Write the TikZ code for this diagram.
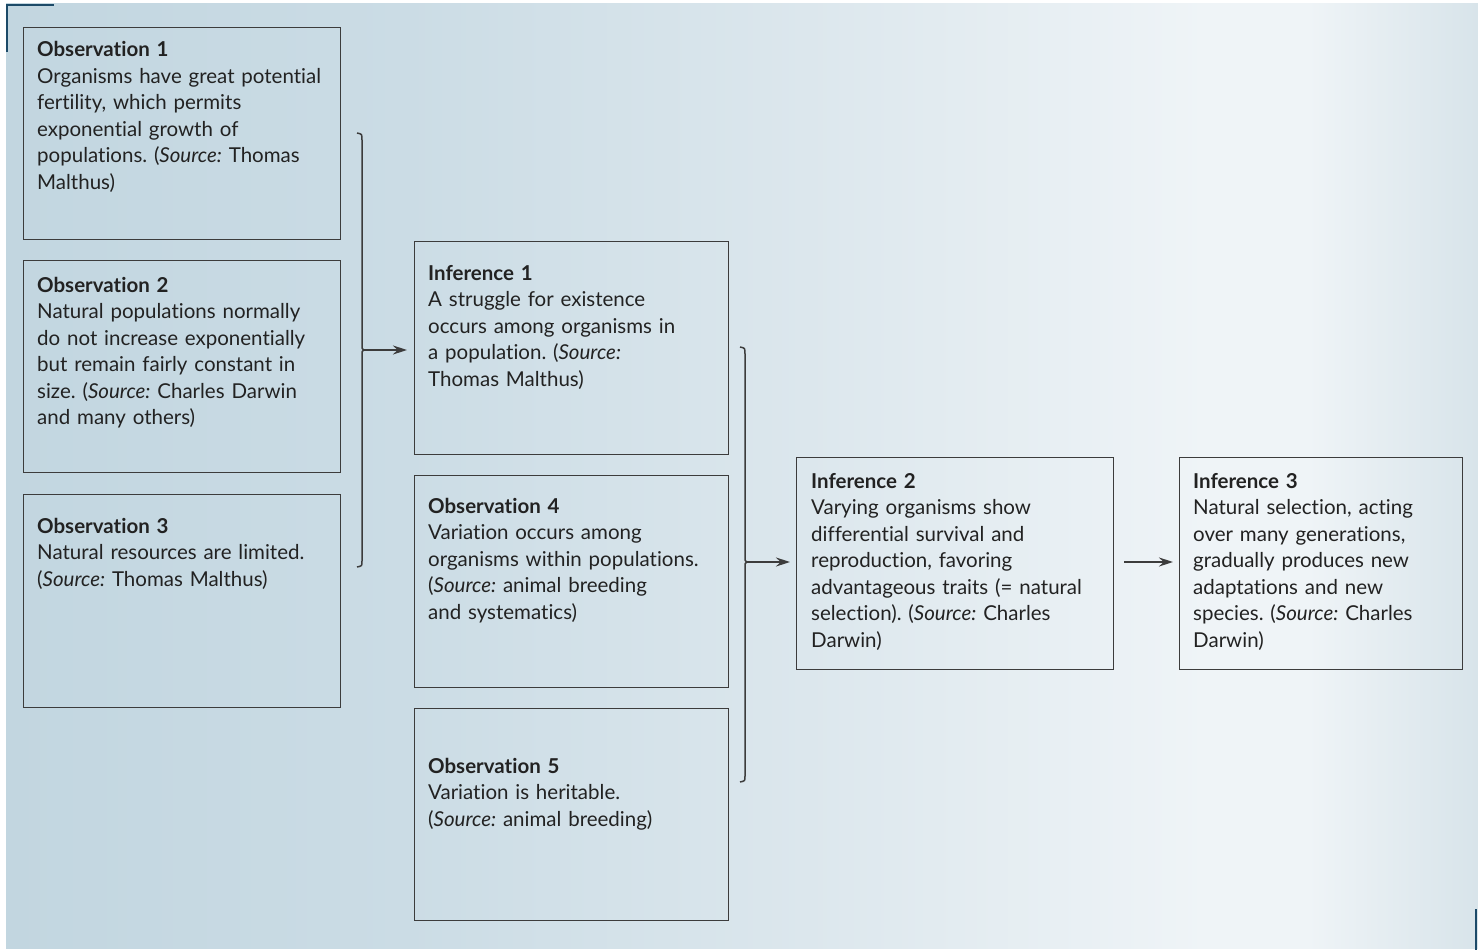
\documentclass[tikz,border=0pt]{standalone}
\usepackage{fontspec}
\setmainfont{Lato}[Ligatures={NoCommon}]
\usetikzlibrary{arrows.meta}
\definecolor{bgA}{HTML}{C2D6E0}
\definecolor{bgB}{HTML}{CBDCE5}
\definecolor{bgC}{HTML}{DCE7ED}
\definecolor{bgD}{HTML}{EFF4F7}
\definecolor{bgE}{HTML}{D8E4EA}
\definecolor{edgecol}{HTML}{3C3C3C}
\definecolor{ink}{HTML}{222222}
\definecolor{markcol}{HTML}{1C4A68}
\pgfdeclarehorizontalshading{bgshade}{100bp}{color(0bp)=(bgA); color(25bp)=(bgA); color(38.6bp)=(bgB); color(52.2bp)=(bgC); color(65.8bp)=(bgD); color(69.2bp)=(bgD); color(75bp)=(bgE); color(100bp)=(bgE)}
\tikzset{
  box/.style={draw=edgecol, line width=1.4pt, anchor=north west, inner sep=0pt},
  txt/.style={anchor=base west, inner sep=0pt, align=left, text width=330pt, text=ink,
    font=\fontsize{20.5pt}{26.5pt}\selectfont\frenchspacing},
  brk/.style={draw=edgecol, line width=1.5pt},
  arr/.style={draw=edgecol, line width=1.5pt, -{Stealth[length=14pt,width=9pt]}},
  cornermark/.style={draw=markcol, line width=2.5pt},
}
\begin{document}
\begin{tikzpicture}[x=1pt,y=-1pt]
\useasboundingbox (0,0) rectangle (1478,950);
\fill[white] (0,0) rectangle (1478,950);
\shade[shading=bgshade] (6,4) rectangle (1478,948);
% corner marks
\draw[cornermark] (7,52) -- (7,5) -- (54,5);
\draw[cornermark] (1476,909) -- (1476,950);
% boxes
\node[box, minimum width=317pt, minimum height=212pt] (o1) at (23,27) {};
\node[box, minimum width=317pt, minimum height=212pt] (o2) at (23,260) {};
\node[box, minimum width=317pt, minimum height=213pt] (o3) at (23,494) {};
\node[box, minimum width=314pt, minimum height=213pt] (i1) at (414,241) {};
\node[box, minimum width=314pt, minimum height=212pt] (o4) at (414,475) {};
\node[box, minimum width=314pt, minimum height=212pt] (o5) at (414,708) {};
\node[box, minimum width=317pt, minimum height=212pt] (i2) at (796,457) {};
\node[box, minimum width=283pt, minimum height=212pt] (i3) at (1179,457) {};
% texts
\node[txt] (t1) at (37,57) {\textbf{Observation 1}\\Organisms have great potential\\fertility, which permits\\exponential growth of\\populations. (\textit{Source:} Thomas\\Malthus)};
\node[txt] (t2) at (37,292) {\textbf{Observation 2}\\Natural populations normally\\do not increase exponentially\\but remain fairly constant in\\size. (\textit{Source:} Charles Darwin\\and many others)};
\node[txt] (t3) at (37,533) {\textbf{Observation 3}\\Natural resources are limited.\\(\textit{Source:} Thomas Malthus)};
\node[txt] (t4) at (428,280) {\textbf{Inference 1}\\A struggle for existence\\occurs among organisms in\\a population. (\textit{Source:}\\Thomas Malthus)};
\node[txt] (t5) at (428,513) {\textbf{Observation 4}\\Variation occurs among\\organisms within populations.\\(\textit{Source:} animal breeding\\and systematics)};
\node[txt] (t6) at (428,773) {\textbf{Observation 5}\\Variation is heritable.\\(\textit{Source:} animal breeding)};
\node[txt] (t7) at (811,488) {\textbf{Inference 2}\\Varying organisms show\\differential survival and\\reproduction, favoring\\advantageous traits (= natural\\selection). (\textit{Source:} Charles\\Darwin)};
\node[txt] (t8) at (1193,488) {\textbf{Inference 3}\\Natural selection, acting\\over many generations,\\gradually produces new\\adaptations and new\\species. (\textit{Source:} Charles\\Darwin)};
% brackets
\coordinate (b1) at (364,350);
\coordinate (b2) at (747,562);
\draw[brk] (357,133) .. controls (362,134) .. (362,140) -- (362,345) .. controls (362,349) .. (b1) .. controls (362,351) .. (362,355) -- (362,561) .. controls (362,566) .. (357,567);
\draw[brk] (740,347) .. controls (745,348) .. (745,354) -- (745,557) .. controls (745,561) .. (b2) .. controls (745,563) .. (745,567) -- (745,776) .. controls (745,781) .. (740,782);
% arrows
\draw[arr, shorten >=7pt] (b1) -- (b1 -| i1.west);
\draw[arr, shorten >=6pt] (b2) -- (b2 -| i2.west);
\draw[arr, shorten <=10pt, shorten >=6pt] (i2.east |- b2) -- (i3.west |- b2);
\end{tikzpicture}
\end{document}
